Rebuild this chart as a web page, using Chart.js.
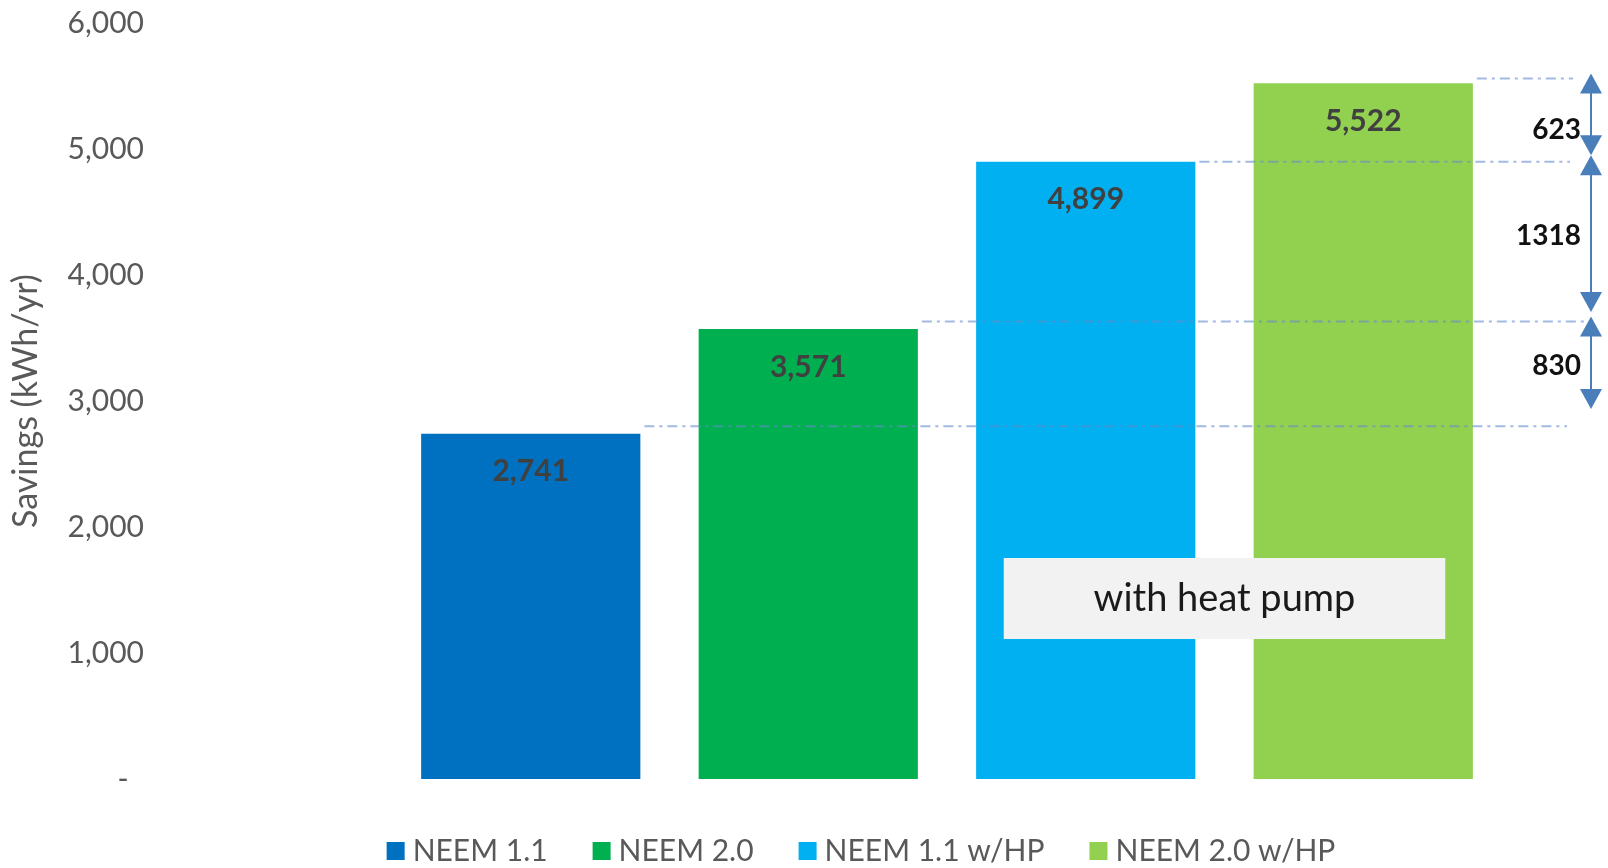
<!DOCTYPE html>
<html>
<head>
<meta charset="utf-8">
<title>NEEM savings</title>
<script src="https://cdn.jsdelivr.net/npm/chart.js@4.4.1/dist/chart.umd.min.js"></script>
<style>
  html,body{margin:0;padding:0;background:#fff;}
  #wrap{width:1608px;height:868px;position:relative;}
</style>
</head>
<body>
<div id="wrap"><canvas id="chart" width="1608" height="868"></canvas></div>
<script>
// ---- data ----
const seriesNames = ['NEEM 1.1', 'NEEM 2.0', 'NEEM 1.1 w/HP', 'NEEM 2.0 w/HP'];
const savings = [2741, 3571, 4899, 5522];
const yTickValues = [0, 1000, 2000, 3000, 4000, 5000, 6000];
const stepLabels = ['623', '1318', '830'];
// arrow spans and label levels for the steps (kWh/yr)
const stepArrows = [[5600, 4950], [4950, 3706], [3670, 2937]];
const stepLabelLevels = [5150, 4310, 3280];
// dash-dot guide level leaving each bar (kWh/yr)
const guideLevels = [2800, 3630, 4899, 5560];
const calloutText = 'with heat pump';
const calloutRange = [1111, 1754];

const barColors = ['#0070C0', '#00B050', '#00B0F0', '#92D050'];
const FONT = 'Lato, "Open Sans", sans-serif';

(function(){
  const fmt = v => v.toLocaleString('en-US');

  // ---- overlays: value labels, guides, step arrows, callout ----
  const overlays = {
    id: 'overlays',
    afterDatasetsDraw(chart){
      const ctx = chart.ctx;
      const y = chart.scales.y;
      const bars = chart.data.datasets.map((d, i) => chart.getDatasetMeta(i).data[0]);

      ctx.save();
      // guides
      const guideEnds = [1567, 1593, 1570, 1573];
      ctx.strokeStyle = 'rgba(100,140,205,0.6)';
      ctx.lineWidth = 2;
      ctx.setLineDash([10, 5, 3, 5]);
      guideLevels.forEach((lv, i) => {
        const b = bars[i];
        const py = y.getPixelForValue(lv);
        ctx.beginPath();
        ctx.moveTo(b.x + b.width / 2 + 4, py);
        ctx.lineTo(guideEnds[i], py);
        ctx.stroke();
      });
      ctx.setLineDash([]);

      // value labels
      ctx.fillStyle = '#404040';
      ctx.font = 'bold 30px ' + FONT;
      ctx.textAlign = 'center';
      ctx.textBaseline = 'middle';
      bars.forEach((b, i) => {
        ctx.fillText(fmt(savings[i]), b.x, b.y + 38);
      });

      // callout box across the heat pump bars
      const cx0 = bars[2].x - 82, cx1 = bars[3].x + 82;
      const cy0 = y.getPixelForValue(calloutRange[1]), cy1 = y.getPixelForValue(calloutRange[0]);
      ctx.fillStyle = '#F2F2F2';
      ctx.fillRect(cx0, cy0, cx1 - cx0, cy1 - cy0);
      ctx.fillStyle = '#1a1a1a';
      ctx.font = '38px ' + FONT;
      ctx.fillText(calloutText, (cx0 + cx1) / 2, (cy0 + cy1) / 2);

      // step arrows
      const ax = chart.chartArea.right + 89;
      ctx.strokeStyle = '#4A7EBB';
      ctx.fillStyle = '#4A7EBB';
      ctx.lineWidth = 2;
      stepArrows.forEach(([top, bot]) => {
        const y0 = y.getPixelForValue(top), y1 = y.getPixelForValue(bot);
        ctx.beginPath();
        ctx.moveTo(ax, y0 + 10);
        ctx.lineTo(ax, y1 - 10);
        ctx.stroke();
        [[y0, 1], [y1, -1]].forEach(([tip, dir]) => {
          ctx.beginPath();
          ctx.moveTo(ax, tip);
          ctx.lineTo(ax - 11, tip + dir * 20);
          ctx.lineTo(ax + 11, tip + dir * 20);
          ctx.closePath();
          ctx.fill();
        });
      });

      // step labels
      ctx.fillStyle = '#111';
      ctx.font = 'bold 28px ' + FONT;
      ctx.textAlign = 'right';
      stepLabels.forEach((t, i) => {
        ctx.fillText(t, chart.chartArea.right + 79, y.getPixelForValue(stepLabelLevels[i]));
      });
      ctx.restore();
    }
  };

  // ---- legend (drawn by hand to match spacing) ----
  const bottomLegend = {
    id: 'bottomLegend',
    afterDraw(chart){
      const ctx = chart.ctx;
      const box = 18, gap = 8, itemGap = 45, cy = 851, centre = 861;
      ctx.save();
      ctx.font = '30px ' + FONT;
      ctx.textBaseline = 'middle';
      ctx.textAlign = 'left';
      const items = chart.data.datasets.map(d => ({label: d.label, color: d.backgroundColor, w: ctx.measureText(d.label).width}));
      const total = items.reduce((s, it) => s + box + gap + it.w, 0) + itemGap * (items.length - 1);
      let x = centre - total / 2;
      items.forEach(it => {
        ctx.fillStyle = it.color;
        ctx.fillRect(x, cy - box / 2, box, box);
        ctx.fillStyle = '#595959';
        ctx.fillText(it.label, x + box + gap, cy);
        x += box + gap + it.w + itemGap;
      });
      ctx.restore();
    }
  };

  new Chart(document.getElementById('chart'), {
    type: 'bar',
    data: {
      labels: [''],
      datasets: seriesNames.map((name, i) => ({
        label: name,
        data: [savings[i]],
        backgroundColor: barColors[i],
        borderWidth: 0,
        categoryPercentage: 1,
        barPercentage: 0.79
      }))
    },
    options: {
      responsive: false,
      animation: false,
      layout: {padding: {top: 23, right: 106, bottom: 0, left: 0}},
      plugins: {legend: {display: false}, tooltip: {enabled: false}},
      scales: {
        x: {
          ticks: {display: false},
          grid: {display: false, drawTicks: false},
          border: {display: false},
          afterFit: s => { s.height = 89; }
        },
        y: {
          min: 0, max: 6000,
          afterBuildTicks: s => { s.ticks = yTickValues.map(v => ({value: v})); },
          ticks: {
            padding: 248,
            color: '#595959',
            font: {family: FONT, size: 30},
            callback: v => v === 0 ? '-  ' : fmt(v)
          },
          grid: {display: false, drawTicks: false},
          border: {display: false},
          title: {
            display: true, text: 'Savings (kWh/yr)', color: '#595959',
            font: {family: FONT, size: 34}, padding: {top: 6, bottom: 0}
          },
          // tick padding pushes labels left; keep it from padding the plot vertically
          afterFit: s => { s.width = 392; s.paddingTop = 0; s.paddingBottom = 0; }
        }
      }
    },
    plugins: [overlays, bottomLegend]
  });
})();
</script>
</body>
</html>
